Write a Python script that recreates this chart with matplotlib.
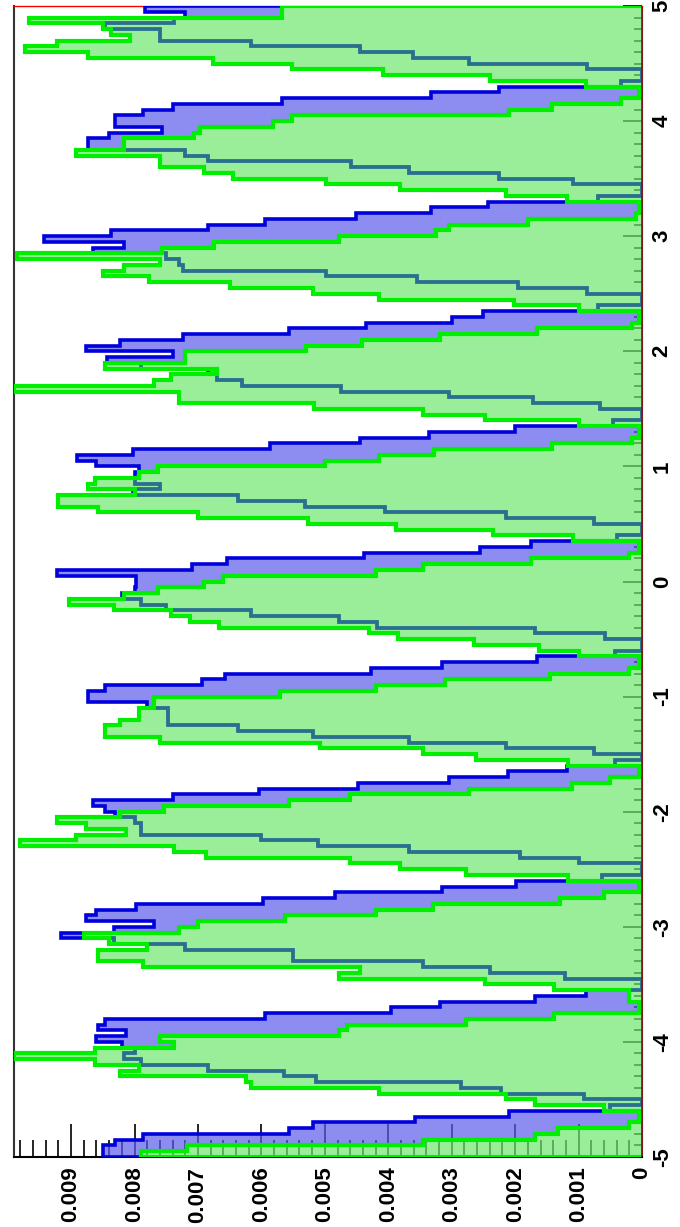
import numpy as np
import matplotlib.pyplot as plt
from matplotlib.ticker import MultipleLocator

plt.rcParams['font.family'] = ['Liberation Sans', 'DejaVu Sans']

# bin contents in units of 1e-3, 200 bins of 0.05 on [-5, 5],
# listed from the top of the picture (x = +5) downwards, one row per spike
blue_top_down = [
    7.83, 7.2, 7.37, 8.46, 7.6, 7.6, 6.17, 4.44, 3.61, 2.72, 0.86, 0.0, 0.0, 0.33,
    2.25, 3.32, 5.67, 7.4, 7.87, 8.3, 8.3, 7.57, 8.4, 8.73, 8.73, 7.2, 6.84, 4.58, 3.68, 2.25, 1.09, 0.0, 0.0, 0.69,
    2.42, 3.32, 4.51, 5.94, 6.84, 8.37, 9.43, 8.17, 8.66, 7.5, 7.3, 7.24, 4.98, 3.55, 1.95, 0.86, 0.0, 0.0, 0.7,
    2.5, 3.0, 4.35, 5.57, 7.24, 8.23, 8.76, 7.4, 8.43, 7.9, 6.84, 6.7, 6.3, 4.74, 3.05, 1.72, 0.66, 0.0, 0.0, 0.46,
    2.0, 3.35, 4.45, 5.87, 8.03, 8.9, 8.6, 7.93, 8.0, 8.0, 7.6, 8.03, 6.37, 5.31, 4.05, 2.15, 0.76, 0.0, 0.0, 0.4,
    1.75, 2.56, 4.38, 6.54, 7.1, 9.23, 7.97, 7.97, 8.0, 8.2, 7.9, 7.5, 6.17, 4.78, 4.18, 1.69, 0.59, 0.0, 0.0, 0.43,
    1.65, 3.15, 4.28, 6.57, 6.94, 8.47, 8.73, 8.73, 7.8, 7.47, 7.47, 7.47, 6.37, 5.18, 3.68, 2.15, 0.76, 0.0, 0.43,
    1.19, 2.12, 3.05, 4.48, 6.04, 7.4, 8.66, 8.47, 8.3, 8.0, 7.9, 7.9, 6.0, 5.1, 3.68, 1.92, 0.99, 0.0, 0.0, 0.63,
    1.99, 3.15, 4.84, 5.97, 7.97, 8.6, 8.76, 7.7, 8.33, 9.16, 8.33, 7.2, 5.5, 5.5, 3.45, 2.39, 1.22, 0.0, 0.0, 0.89,
    1.69, 3.18, 3.95, 5.94, 8.47, 8.57, 8.13, 8.6, 8.2, 8.0, 8.17, 7.9, 6.84, 5.64, 5.14, 2.85, 2.22, 0.92, 0.0, 0.5,
    2.09, 3.58, 5.18, 5.57, 7.87, 8.3, 8.5, 8.5,
]
green_top_down = [
    5.67, 5.67, 9.66, 8.5, 8.37, 8.07, 9.23, 9.73, 8.73, 6.77, 5.51, 4.08, 2.39, 0.89,
    0.05, 0.05, 0.33, 1.42, 2.09, 5.51, 5.81, 6.97, 7.07, 8.17, 8.17, 8.93, 7.6, 7.6, 6.9, 6.44, 4.98, 3.81, 2.15, 1.19,
    0.05, 0.05, 0.1, 1.79, 3.05, 3.25, 4.78, 6.74, 7.57, 9.86, 7.6, 8.17, 8.5, 7.77, 6.5, 5.18, 4.15, 2.02, 0.99,
    0.05, 0.05, 0.16, 1.65, 3.18, 4.41, 5.3, 7.2, 7.2, 8.46, 6.7, 7.43, 7.7, 9.9, 7.3, 7.3, 5.17, 3.45, 2.48, 0.99,
    0.05, 0.05, 0.15, 1.42, 3.28, 4.15, 5.0, 7.63, 7.93, 8.63, 8.73, 8.0, 9.2, 9.2, 8.57, 7.0, 5.27, 3.88, 2.35, 1.09,
    0.05, 0.05, 0.2, 1.75, 3.45, 4.2, 6.6, 6.9, 7.63, 8.17, 9.03, 8.33, 7.43, 7.13, 6.67, 4.31, 3.85, 2.65, 1.62, 1.0,
    0.05, 0.05, 0.2, 1.45, 3.1, 4.2, 5.7, 7.7, 7.7, 7.93, 7.93, 8.23, 8.47, 8.47, 7.6, 5.08, 3.45, 2.62, 1.16,
    0.05, 0.05, 0.5, 1.1, 2.72, 4.61, 5.57, 7.53, 8.23, 9.23, 8.76, 8.13, 8.93, 9.8, 7.37, 6.87, 4.61, 3.81, 2.78, 1.16,
    0.05, 0.05, 0.6, 1.29, 3.3, 4.2, 5.63, 7.0, 7.3, 8.8, 8.4, 7.8, 8.57, 8.57, 7.87, 4.45, 4.78, 2.48, 1.39, 0.2,
    0.2, 0.05, 0.05, 1.39, 2.78, 4.65, 4.78, 7.6, 7.37, 8.63, 9.9, 8.63, 7.93, 8.23, 6.24, 6.17, 4.15, 2.15, 1.69, 0.6,
    0.05, 0.05, 0.2, 1.32, 1.69, 3.45, 7.17, 7.9,
]

x_edges = np.linspace(-5, 5, 201)
value_ticks = [0, 0.001, 0.002, 0.003, 0.004, 0.005, 0.006, 0.007, 0.008, 0.009]
value_labels = ['0', '0.001', '0.002', '0.003', '0.004', '0.005', '0.006', '0.007', '0.008', '0.009']
x_ticks = [-5, -4, -3, -2, -1, 0, 1, 2, 3, 4, 5]
x_labels = ['-5', '-4', '-3', '-2', '-1', '0', '1', '2', '3', '4', '5']


def main():
    blue = np.array(blue_top_down[::-1]) * 1e-3
    green = np.array(green_top_down[::-1]) * 1e-3

    fig = plt.figure(figsize=(6.8, 12.27), dpi=100)
    ax = fig.add_axes([14 / 680, 70 / 1227, 628 / 680, 1151 / 1227])
    ax.set_axisbelow(True)

    # the picture is a ROOT histogram turned on its side: bins run up, contents run left
    ax.stairs(np.maximum(blue, green), x_edges, baseline=green, fill=True,
              orientation='horizontal', color='#5c5cec', alpha=0.7, lw=0, zorder=3)
    ax.stairs(blue, x_edges, orientation='horizontal', color='#0000dd', lw=2.6, zorder=4)
    gfill = ax.stairs(green, x_edges, orientation='horizontal', fill=True,
                      color='#70e870', alpha=0.7, lw=0, zorder=5)
    hidden = ax.stairs(blue, x_edges, orientation='horizontal', color='#2a6f8f', lw=2.6, zorder=6)
    hidden.set_clip_path(gfill)
    ax.stairs(green, x_edges, orientation='horizontal', color='#00ee00', lw=3, zorder=7)
    ax.axvline(0, color='#7a1a1a', lw=1.2, zorder=8)

    ax.set_xlim(0.0099, 0)
    ax.set_ylim(-5, 5)

    ax.set_xticks(value_ticks, value_labels)
    ax.xaxis.set_minor_locator(MultipleLocator(0.0002))
    ax.tick_params(axis='x', which='both', direction='in', bottom=True, top=False,
                   labelrotation=90, labelsize=16, pad=7, width=1.2, color='black')
    ax.tick_params(axis='x', which='major', length=24)
    ax.tick_params(axis='x', which='minor', length=12)

    ax.yaxis.tick_right()
    ax.set_yticks(x_ticks, x_labels)
    ax.yaxis.set_minor_locator(MultipleLocator(0.1))
    ax.tick_params(axis='y', which='both', direction='in', left=False, right=True,
                   labelleft=False, labelright=True, labelrotation=90, labelsize=16,
                   pad=7, width=1.2, color='black')
    ax.tick_params(axis='y', which='major', length=14)
    ax.tick_params(axis='y', which='minor', length=6)

    for lbl in ax.get_xticklabels() + ax.get_yticklabels():
        lbl.set_fontweight('bold')
    for lbl in ax.get_yticklabels():
        lbl.set_va('center')

    ax.spines['left'].set_color('#333333')
    ax.spines['left'].set_linewidth(1.5)
    ax.spines['bottom'].set_linewidth(1.5)
    ax.spines['top'].set_color('#ff0000')
    ax.spines['top'].set_linewidth(1)
    ax.spines['right'].set_color('#7a1a1a')

    fig.savefig('out.png', dpi=100)


if __name__ == '__main__':
    main()
